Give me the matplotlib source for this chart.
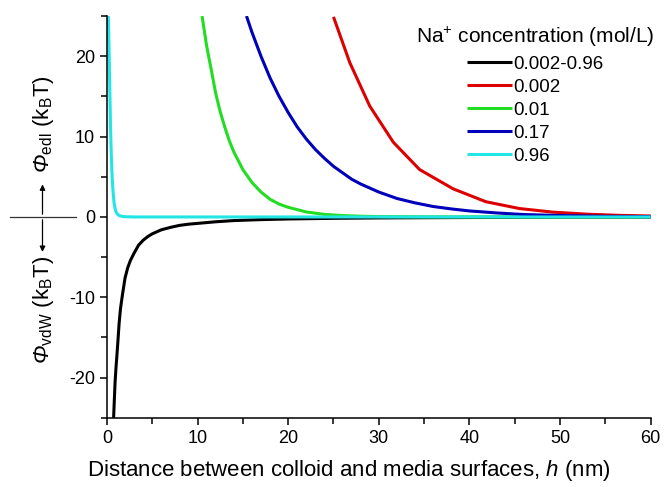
"""
Interaction energy profiles (EDL and vdW) vs separation distance.
Saves out.png.
"""

import matplotlib
matplotlib.use("Agg")
import matplotlib.pyplot as plt
import matplotlib.transforms as mtransforms
from matplotlib.ticker import MultipleLocator


# --- data ------------------------------------------------------------------
# vdW attraction (same for all concentrations)
h_vdw = [0.74, 0.8, 0.9, 1.0, 1.1, 1.2, 1.35, 1.5, 1.7, 2.0, 2.3, 2.6, 3.0, 3.5, 4.0, 4.5, 5.0,
         6.0, 7.0, 8.0, 9.0, 10, 12, 14, 17, 20, 25, 30, 40, 50, 60]
phi_vdw = [-25, -23.3, -20.6, -18.8, -17.3, -15.7, -13.2, -11.4, -9.8, -7.6, -6.3, -5.4, -4.5,
           -3.5, -2.9, -2.45, -2.1, -1.6, -1.3, -1.05, -0.9, -0.8, -0.6, -0.45, -0.33, -0.25,
           -0.17, -0.12, -0.07, -0.04, -0.03]

# EDL repulsion, 0.002 mol/L
h_002 = [25.0, 26.8, 29.0, 31.6, 34.5, 38.2, 41.8, 45.5, 49.2, 52.9, 56.5, 60]
phi_002 = [24.9, 19.2, 13.8, 9.3, 5.9, 3.5, 1.9, 1.05, 0.6, 0.35, 0.2, 0.12]

# EDL repulsion, 0.01 mol/L
h_01 = [10.5, 11, 11.5, 12, 12.5, 13, 13.5, 14, 15, 16, 17, 18, 19, 20, 22, 24, 26, 28, 30,
        35, 40, 50, 60]
phi_01 = [25, 21.3, 18.4, 15.4, 13.1, 11.2, 9.5, 8.1, 5.9, 4.3, 3.1, 2.2, 1.6, 1.2, 0.62, 0.32,
          0.17, 0.09, 0.05, 0.02, 0.01, 0, 0]

# EDL repulsion, 0.17 mol/L
h_17 = [15.4, 16, 17, 18, 19, 20, 21, 22, 23, 24, 25, 26, 27, 28, 29, 30, 32, 34, 36, 38, 40,
        43, 46, 50, 55, 60]
phi_17 = [25, 23.0, 20.0, 17.3, 15.0, 13.0, 11.2, 9.7, 8.4, 7.3, 6.3, 5.5, 4.7, 4.1, 3.6, 3.1,
          2.3, 1.75, 1.3, 1.0, 0.75, 0.5, 0.3, 0.18, 0.08, 0.04]

# EDL repulsion, 0.96 mol/L
h_96 = [0.15, 0.2, 0.25, 0.3, 0.35, 0.4, 0.45, 0.5, 0.55, 0.6, 0.7, 0.8, 0.9, 1.0, 1.2, 1.4,
        1.7, 2.0, 3.0, 60]
phi_96 = [25, 23, 20, 17, 14, 11.3, 9.0, 7.2, 5.7, 4.5, 2.8, 1.7, 1.05, 0.65, 0.3, 0.15,
          0.07, 0.03, 0, 0]

labels = ["0.002-0.96", "0.002", "0.01", "0.17", "0.96"]
colors = ["#000000", "#dd0000", "#22dd22", "#0000bb", "#22e5e5"]


plt.rcParams["font.family"] = ["Liberation Sans", "DejaVu Sans"]
plt.rcParams["mathtext.fontset"] = "custom"
plt.rcParams["mathtext.rm"] = "Liberation Sans"
plt.rcParams["mathtext.it"] = "Liberation Sans:italic"
# italic font slot for the Greek capital (mathit keeps Greek capitals upright)
plt.rcParams["mathtext.sf"] = "Liberation Sans:italic"
plt.rcParams["axes.unicode_minus"] = False


def make_plot():
    fig = plt.figure(figsize=(6.64, 4.87), dpi=100)
    ax = fig.add_axes([0.161, 0.142, 0.819, 0.825])

    series = [(h_vdw, phi_vdw), (h_002, phi_002), (h_01, phi_01), (h_17, phi_17), (h_96, phi_96)]
    for (x, y), lab, col in zip(series, labels, colors):
        ax.plot(x, y, color=col, lw=2.2, label=lab, solid_capstyle="butt")

    ax.set_xlim(0, 60)
    ax.set_ylim(-25, 25)
    ax.xaxis.set_major_locator(MultipleLocator(10))
    ax.xaxis.set_minor_locator(MultipleLocator(5))
    ax.yaxis.set_major_locator(MultipleLocator(10))
    ax.yaxis.set_minor_locator(MultipleLocator(5))
    ax.tick_params(which="both", direction="out", width=1.1, labelsize=13)
    ax.tick_params(which="major", length=5)
    ax.tick_params(which="minor", length=4)
    for side in ("top", "right"):
        ax.spines[side].set_visible(False)
    for side in ("left", "bottom"):
        ax.spines[side].set_linewidth(1.1)

    ax.set_xlabel("Distance between colloid and media surfaces, $h$ (nm)", fontsize=16)
    ax.xaxis.set_label_coords(0.445, -0.1)

    # split y label with arrows
    trans = mtransforms.blended_transform_factory(fig.transFigure, ax.transData)
    ax.plot([0.015, 0.1145], [0, 0], color="#333333", lw=0.9, transform=trans, clip_on=False)
    ax.annotate("", xy=(0.064, 4.4), xytext=(0.064, 0), xycoords=trans, textcoords=trans,
                arrowprops=dict(arrowstyle="-|>", color="black", lw=0.9, mutation_scale=8))
    ax.annotate("", xy=(0.064, -4.7), xytext=(0.064, 0), xycoords=trans, textcoords=trans,
                arrowprops=dict(arrowstyle="-|>", color="black", lw=0.9, mutation_scale=8))
    ax.text(0.066, 11.6, "$\\mathsf{Φ}_{\\rm edl}$ (k$_{\\rm B}$T)", transform=trans,
            rotation=90, ha="center", va="center", fontsize=16)
    ax.text(0.066, -11.6, "$\\mathsf{Φ}_{\\rm vdW}$ (k$_{\\rm B}$T)", transform=trans,
            rotation=90, ha="center", va="center", fontsize=16)

    leg = ax.legend(loc="upper center", bbox_to_anchor=(0.806, 0.975), bbox_transform=fig.transFigure,
                    frameon=False, title="Na$^{+}$ concentration (mol/L)", fontsize=13.5,
                    title_fontsize=15, handlelength=2.4, handletextpad=0.1, labelspacing=0.32,
                    borderpad=0.2)
    leg.get_title().set_ha("center")

    fig.savefig("out.png", dpi=100)
    plt.close(fig)


if __name__ == "__main__":
    make_plot()
